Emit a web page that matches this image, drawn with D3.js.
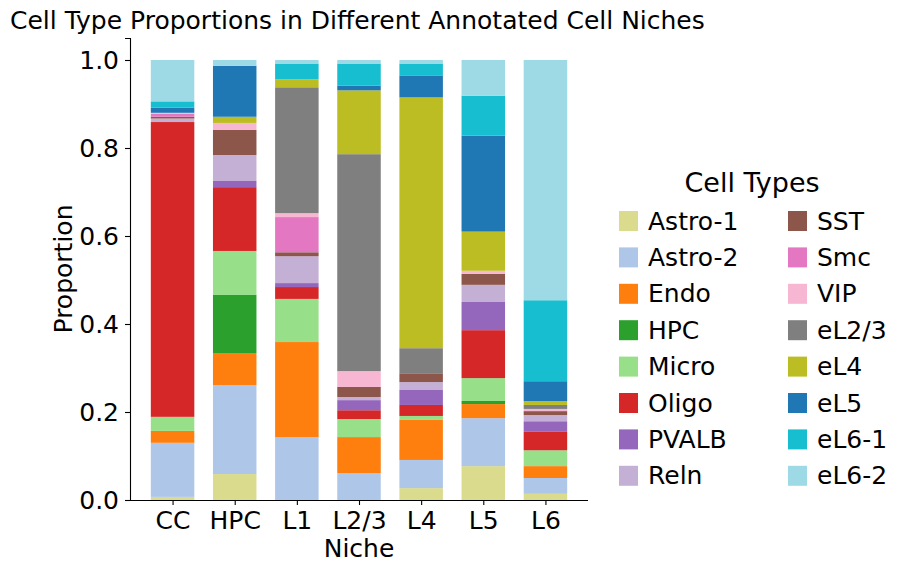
<!DOCTYPE html>
<html>
<head>
<meta charset="utf-8">
<script src="https://cdn.jsdelivr.net/npm/d3@7"></script>
<style>
  body { margin: 0; background: #fff; }
  svg text { font-family: "DejaVu Sans", sans-serif; fill: #000; }
</style>
</head>
<body>
<svg id="chart" width="905" height="573"></svg>
<script>
// niches on the x axis
const niches = ['CC', 'HPC', 'L1', 'L2/3', 'L4', 'L5', 'L6'];
const cellTypes = ['Astro-1', 'Astro-2', 'Endo', 'HPC', 'Micro', 'Oligo', 'PVALB', 'Reln',
                   'SST', 'Smc', 'VIP', 'eL2/3', 'eL4', 'eL5', 'eL6-1', 'eL6-2'];
const cellColors = ['#dbdb8d', '#aec7e8', '#ff7f0e', '#2ca02c', '#98df8a', '#d62728', '#9467bd', '#c5b0d5',
                    '#8c564b', '#e377c2', '#f7b6d2', '#7f7f7f', '#bcbd22', '#1f77b4', '#17becf', '#9edae5'];
const yTicks = [0, 0.2, 0.4, 0.6, 0.8, 1.0];

// proportion of each cell type per niche (order of niches)
const astro1 = [0.007, 0.059, 0.000, 0.000, 0.027, 0.077, 0.014];
const astro2 = [0.123, 0.202, 0.143, 0.061, 0.064, 0.109, 0.036];
const endo   = [0.027, 0.073, 0.216, 0.082, 0.091, 0.032, 0.027];
const hpc    = [0.000, 0.132, 0.000, 0.000, 0.000, 0.007, 0.000];
const micro  = [0.032, 0.100, 0.098, 0.041, 0.009, 0.052, 0.036];
const oligo  = [0.670, 0.145, 0.027, 0.020, 0.025, 0.109, 0.043];
const pvalb  = [0.000, 0.014, 0.009, 0.023, 0.034, 0.064, 0.023];
const reln   = [0.008, 0.059, 0.061, 0.007, 0.018, 0.039, 0.014];
const sst    = [0.004, 0.057, 0.009, 0.023, 0.020, 0.025, 0.009];
const smc    = [0.007, 0.000, 0.080, 0.000, 0.000, 0.000, 0.000];
const vip    = [0.002, 0.016, 0.009, 0.036, 0.000, 0.007, 0.005];
const eL23   = [0.000, 0.000, 0.286, 0.493, 0.057, 0.000, 0.009];
const eL4    = [0.000, 0.014, 0.018, 0.145, 0.570, 0.089, 0.009];
const eL5    = [0.012, 0.116, 0.000, 0.011, 0.050, 0.218, 0.045];
const eL61   = [0.014, 0.000, 0.036, 0.050, 0.027, 0.091, 0.184];
const eL62   = [0.094, 0.013, 0.008, 0.008, 0.008, 0.081, 0.546];

const series = [astro1, astro2, endo, hpc, micro, oligo, pvalb, reln,
                sst, smc, vip, eL23, eL4, eL5, eL61, eL62];

const svg = d3.select('#chart');
const plot = {left: 130, right: 588, top: 38, bottom: 500};

// table for d3.stack
const table = niches.map((n, i) => {
    let row = {niche: n};
    cellTypes.forEach((c, j) => row[c] = series[j][i]);
    return row;
});
const stacked = d3.stack().keys(cellTypes)(table);

let xScale = d3.scalePoint()
    .domain(niches)
    .range([plot.left, plot.right])
    .padding(0.685);
const barWidth = xScale.step() * 0.7;

let yScale = d3.scaleLinear()
    .domain([0, 1.05])
    .range([plot.bottom, plot.top]);

let color = d3.scaleOrdinal().domain(cellTypes).range(cellColors);

// bars
svg.append('g')
    .selectAll('g')
    .data(stacked)
    .enter()
    .append('g')
        .attr('fill', d => color(d.key))
    .selectAll('rect')
    .data(d => d)
    .enter()
    .append('rect')
        .attr('x', d => xScale(d.data.niche) - barWidth / 2)
        .attr('width', barWidth)
        .attr('y', d => yScale(d[1]))
        .attr('height', d => yScale(d[0]) - yScale(d[1]));

//x-Axis
let xAxis = d3.axisBottom(xScale).tickSizeOuter(0).tickSize(5).tickPadding(6);
let gx = svg.append('g')
    .attr('transform', `translate(0, ${plot.bottom})`)
    .call(xAxis);
gx.select('.domain').attr('d', `M${plot.left},0.5H${plot.right}`);

//y-Axis
let yAxis = d3.axisLeft(yScale)
    .tickValues(yTicks)
    .tickFormat(d3.format('.1f'))
    .tickSizeOuter(0).tickSize(5).tickPadding(6);
let gy = svg.append('g')
    .attr('transform', `translate(${plot.left}, 0)`)
    .call(yAxis);

[gx, gy].forEach(g => {
    g.selectAll('.domain, line').attr('stroke', '#000').attr('stroke-width', 1.1);
    g.selectAll('text').attr('font-size', 25).attr('font-family', '"DejaVu Sans", sans-serif');
});

// axis labels and title
svg.append('text')
    .attr('x', (plot.left + plot.right) / 2)
    .attr('y', 557)
    .attr('text-anchor', 'middle')
    .attr('font-size', 25)
    .text('Niche');

svg.append('text')
    .attr('transform', `translate(72, ${(plot.top + plot.bottom) / 2}) rotate(-90)`)
    .attr('text-anchor', 'middle')
    .attr('font-size', 25)
    .text('Proportion');

svg.append('text')
    .attr('x', 10)
    .attr('y', 29)
    .attr('font-size', 25)
    .text('Cell Type Proportions in Different Annotated Cell Niches');

// legend
let legend = svg.append('g');
legend.append('text')
    .attr('x', 752)
    .attr('y', 192)
    .attr('text-anchor', 'middle')
    .attr('font-size', 27)
    .text('Cell Types');

let items = legend.selectAll('.legend__item')
    .data(cellTypes)
    .enter()
    .append('g')
        .classed('legend__item', true)
        .attr('transform', (d, i) => `translate(${i < 8 ? 619 : 788}, ${221 + (i % 8) * 36.4})`);
items.append('rect')
    .attr('x', 0)
    .attr('y', -10)
    .attr('width', 19)
    .attr('height', 20)
    .attr('fill', d => color(d));
items.append('text')
    .attr('x', 29)
    .attr('y', 8.5)
    .attr('font-size', 25)
    .text(d => d);
</script>
</body>
</html>
